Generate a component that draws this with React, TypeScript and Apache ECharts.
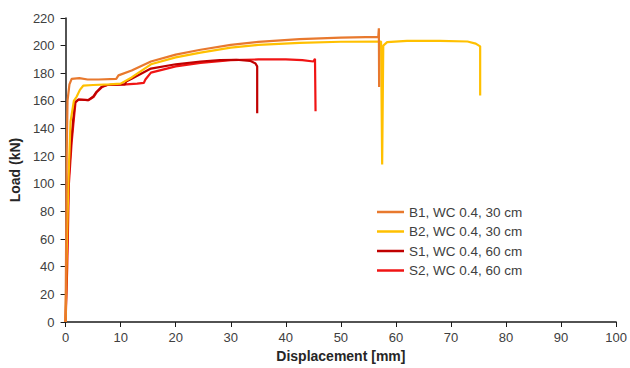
import React, { useEffect, useRef } from "react";
import * as echarts from "echarts";

const seriesNames = ["B1, WC 0.4, 30 cm", "B2, WC 0.4, 30 cm", "S1, WC 0.4, 60 cm", "S2, WC 0.4, 60 cm"];
const seriesColors = ["#E8792E", "#FFC000", "#C00000", "#F01414"];

const b1Data: number[][] = [
  [0, 0], [0.1, 60], [0.2, 120], [0.35, 160], [0.7, 172], [1.1, 176], [2.5, 176.5], [4, 175.5],
  [6, 175.5], [9.2, 176], [9.6, 178.5], [12, 182], [15.5, 188.5], [20, 193.5], [24.5, 197],
  [30, 200.5], [35, 202.7], [42.5, 204.7], [50, 205.8], [56.8, 206.3], [56.9, 212.6], [56.95, 170],
];

const b2Data: number[][] = [
  [0, 0], [0.2, 50], [0.5, 100], [0.9, 145], [1.5, 160], [2.0, 163], [2.6, 168], [3.2, 171],
  [5, 171.5], [8, 172], [10, 172.5], [12, 177], [15.5, 186.5], [20, 191.5], [24.5, 195],
  [30, 198.5], [35, 200.5], [42.5, 202], [50, 202.8], [57.3, 203], [57.5, 114], [57.7, 200],
  [58.4, 202.5], [62, 203.5], [68, 203.5], [73, 203], [74.5, 201.5], [75.3, 199.5], [75.3, 164],
];

const s1Data: number[][] = [
  [0, 0], [0.2, 40], [0.5, 100], [1.0, 130], [1.4, 147], [1.7, 159], [2.3, 161], [4.1, 160.5],
  [5, 163], [5.6, 166.5], [6.5, 170], [7.5, 171.5], [10.8, 172], [11, 174], [12, 176],
  [15.5, 183.4], [20, 186.5], [24.5, 188.5], [28, 189.5], [31, 189.8], [33.5, 189], [34.5, 187],
  [34.8, 185], [34.8, 151],
];

const s2Data: number[][] = [
  [0, 0], [0.3, 40], [0.6, 100], [1.1, 130], [1.5, 147], [1.8, 159], [2.4, 161], [4.2, 160.5],
  [5.1, 163], [5.7, 166.5], [6.6, 170], [7.6, 171.5], [11, 172], [13, 172.5], [14.2, 173],
  [14.5, 175.5], [15.5, 180.5], [20, 185], [24.5, 187.5], [30, 189.5], [35, 190], [40, 190],
  [43, 189.5], [45, 188.5], [45.3, 190.5], [45.4, 152.5],
];

const allData = [b1Data, b2Data, s1Data, s2Data];

export default function App() {
  const ref = useRef<HTMLDivElement>(null);
  useEffect(() => {
    if (!ref.current) return;
    const chart = echarts.init(ref.current, null, { renderer: "svg" });
    const font = "'Liberation Sans', Arial, sans-serif";
    chart.setOption({
      animation: false,
      backgroundColor: "#ffffff",
      textStyle: { fontFamily: font },
      grid: { left: 64, right: 11, top: 18, bottom: 41, containLabel: false },
      legend: {
        orient: "vertical",
        left: 372,
        top: 200,
        itemWidth: 27,
        itemHeight: 14,
        itemGap: 5.5,
        icon: "path://M0,6 L27,6 L27,8.5 L0,8.5 Z",
        data: seriesNames,
        textStyle: { fontSize: 13.5, color: "#404040", fontFamily: font },
      },
      xAxis: {
        type: "value",
        min: 0,
        max: 100,
        interval: 10,
        name: "Displacement [mm]",
        nameLocation: "middle",
        nameGap: 27,
        nameTextStyle: { fontSize: 14, fontWeight: "bold", color: "#262626", fontFamily: font },
        axisLine: { show: true, lineStyle: { color: "#1a1a1a", width: 1.5 } },
        axisTick: { show: true, inside: false, length: 5, lineStyle: { color: "#1a1a1a" } },
        axisLabel: { fontSize: 13, color: "#404040", margin: 9, fontFamily: font },
        splitLine: { show: false },
      },
      yAxis: {
        type: "value",
        min: 0,
        max: 220,
        interval: 20,
        name: "Load (kN)",
        nameLocation: "middle",
        nameGap: 42,
        nameTextStyle: { fontSize: 14, fontWeight: "bold", color: "#262626", fontFamily: font },
        axisLine: { show: true, lineStyle: { color: "#1a1a1a", width: 1.5 } },
        axisTick: { show: true, inside: false, length: 5, lineStyle: { color: "#1a1a1a" } },
        axisLabel: { fontSize: 13, color: "#404040", margin: 11, fontFamily: font },
        splitLine: { show: false },
      },
      series: allData.map((d, i) => ({
        name: seriesNames[i],
        type: "line",
        data: d,
        symbol: "none",
        showSymbol: false,
        color: seriesColors[i],
        lineStyle: { color: seriesColors[i], width: 2.2 },
        z: 2 + (3 - i),
      })),
    });
    return () => chart.dispose();
  }, []);
  return (
    <div
      ref={ref}
      style={{ position: "fixed", left: 0, top: 0, width: 630, height: 368, background: "#fff" }}
    />
  );
}
